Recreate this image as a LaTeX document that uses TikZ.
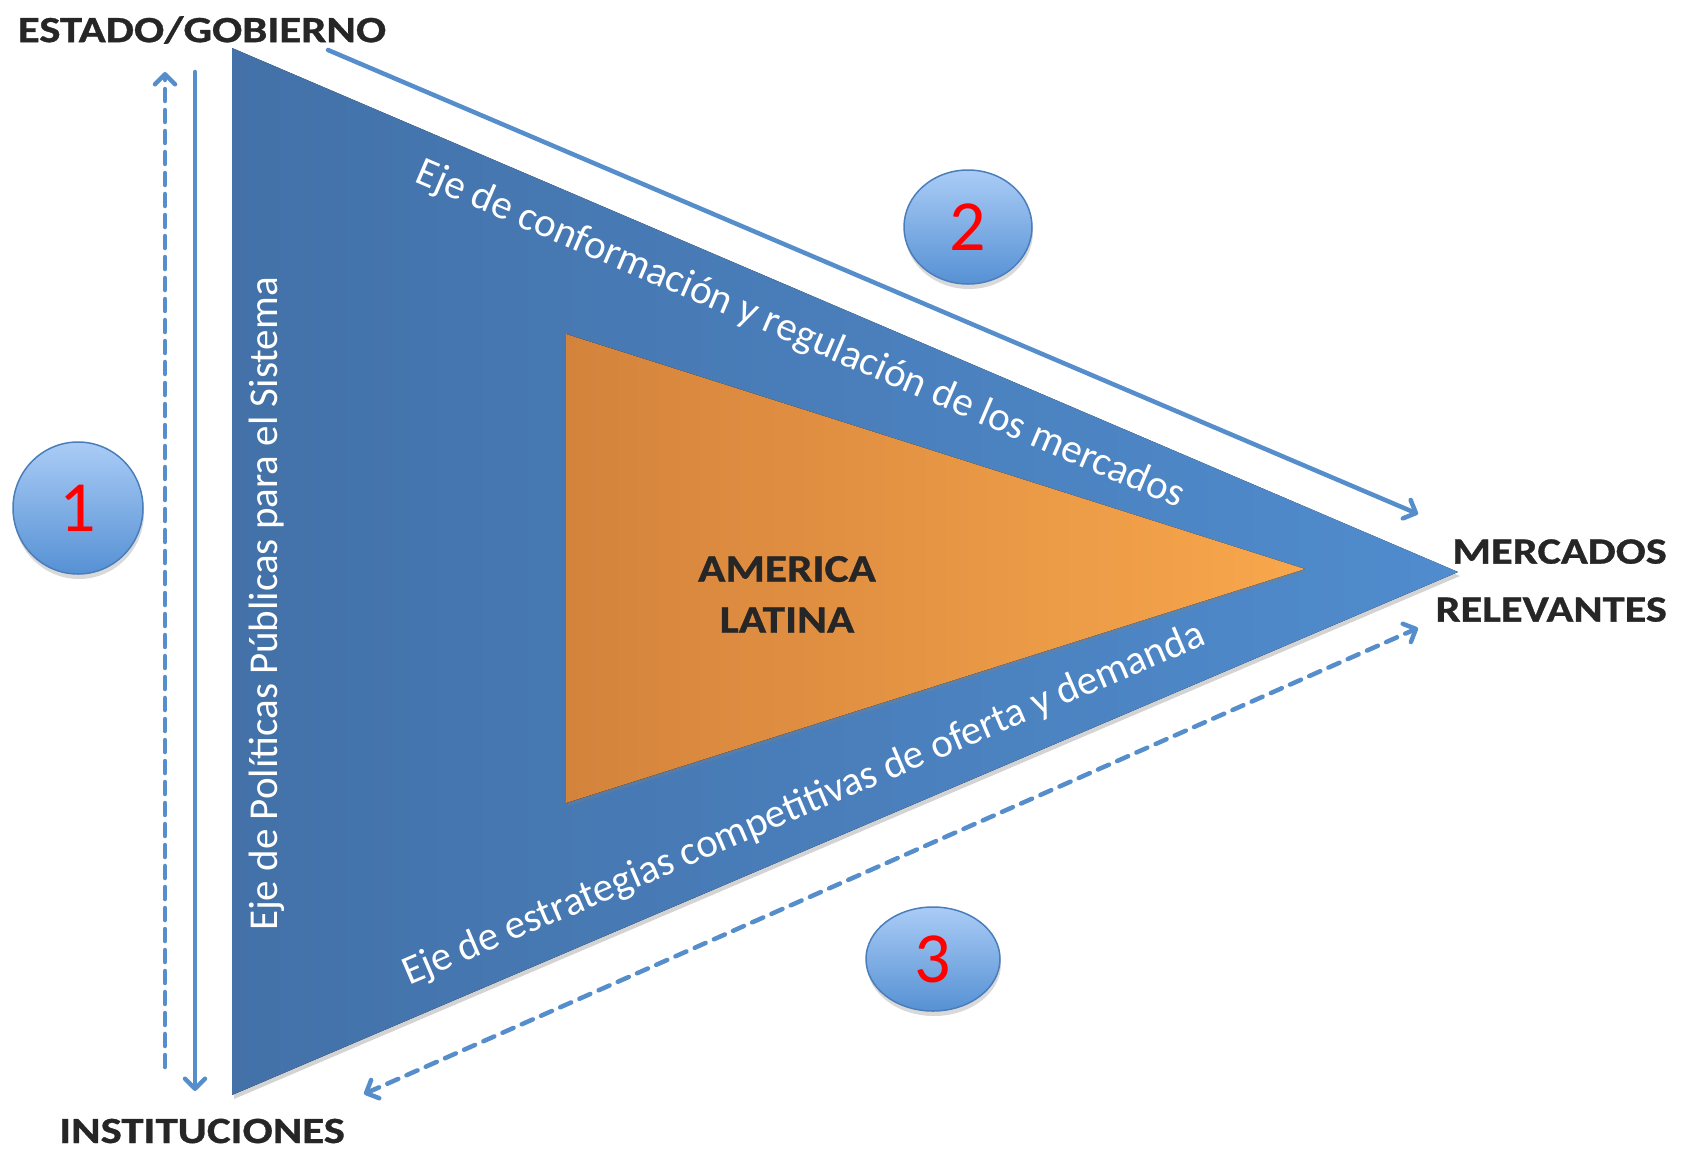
\documentclass[tikz,border=0pt]{standalone}
\usepackage{fontspec}
\setmainfont{Carlito}
\newfontfamily\heavyfont{Carlito Bold}[FakeBold=0.8]
\usetikzlibrary{arrows.meta,shadows,shapes.geometric}
\definecolor{triL}{RGB}{67,113,168}
\definecolor{triR}{RGB}{80,140,206}
\definecolor{oraL}{RGB}{212,131,60}
\definecolor{oraR}{RGB}{248,167,76}
\definecolor{arrowblue}{RGB}{86,142,204}
\definecolor{labelgray}{RGB}{38,38,38}
\definecolor{ballTop}{RGB}{170,204,246}
\definecolor{ballBot}{RGB}{86,145,212}
\definecolor{ballEdge}{RGB}{74,126,187}
\tikzset{
  bigtri/.style={left color=triL, right color=triR, drop shadow={shadow xshift=2pt, shadow yshift=-4pt, opacity=0.35}},
  innertri/.style={left color=oraL, right color=oraR, drop shadow={shadow xshift=2pt, shadow yshift=-3pt, opacity=0.3}},
  corner/.style={font=\heavyfont\fontsize{37}{58}\selectfont, text=labelgray, inner sep=0pt},
  axis/.style={font=\fontsize{41}{44}\selectfont, text=white, inner sep=0pt},
  ball/.style={ellipse, draw=ballEdge, line width=1.5pt, top color=ballTop, bottom color=ballBot,
    font=\fontsize{72}{72}\selectfont, text=red, inner sep=0pt,
    drop shadow={shadow xshift=1pt, shadow yshift=-5pt, opacity=0.3}},
  link/.style={draw=arrowblue, line width=4.5pt, line cap=round,
    -{Straight Barb[length=10pt,width=20pt,round]}},
  dlink/.style={link, dash pattern=on 12pt off 9pt}
}
\begin{document}
\begin{tikzpicture}[x=1pt,y=-1pt]
\useasboundingbox (0,0) rectangle (1684,1149);
% triangles
\fill[bigtri] (232,48) -- (1458,572) -- (232,1095) -- cycle;
\fill[innertri] (566,334) -- (1305,569) -- (566,803) -- cycle;
% axis texts
\node[axis, rotate=90] (ejePol) at (267,604) {Eje de Políticas Públicas para el Sistema};
\node[axis, rotate=-23.15] (ejeConf) at (800,335) {Eje de conformación y regulación de los mercados};
\node[axis, rotate=23.15] (ejeEst) at (804,805) {Eje de estrategias competitivas de oferta y demanda};
% center label
\node[font=\heavyfont\fontsize{39}{51}\selectfont, text=labelgray, inner sep=0pt] (al) at (787,597)
  {\scalebox{1.16}[1]{\begin{tabular}{@{}c@{}}AMERICA\\LATINA\end{tabular}}};
% corner labels
\node[corner] (estado) at (202,30) {\scalebox{1.21}[1]{ESTADO/GOBIERNO}};
\node[corner] (inst) at (202,1131) {\scalebox{1.21}[1]{INSTITUCIONES}};
\node[corner, anchor=east] (merc) at (1667,581)
  {\scalebox{1.2}[1]{\begin{tabular}{@{}r@{}}MERCADOS\\RELEVANTES\end{tabular}}};
% balls
\node[ball, minimum width=130pt, minimum height=132pt] (b1) at (78,508) {\raisebox{-5pt}{1}};
\node[ball, minimum width=128pt, minimum height=114pt] (b2) at (968,227) {\raisebox{-5pt}{2}};
\node[ball, minimum width=134pt, minimum height=104pt] (b3) at (933,959) {\raisebox{-5pt}{3}};
% arrow endpoints
\coordinate (upS) at (165,1067);
\coordinate (upE) at (165,72);
\coordinate (dnS) at (195,72);
\coordinate (dnE) at (195,1091);
\coordinate (topS) at (328,50);
\coordinate (topE) at (1418,514);
\coordinate (botS) at (364,1094);
\coordinate (botE) at (1418,628);
% arrows
\draw[dlink] (upS) -- (upE);
\draw[link] (dnS) -- (dnE);
\draw[link] (topS) -- (topE);
\draw[dlink, {Straight Barb[length=10pt,width=20pt,round]}-{Straight Barb[length=10pt,width=20pt,round]}] (botS) -- (botE);
\end{tikzpicture}
\end{document}
